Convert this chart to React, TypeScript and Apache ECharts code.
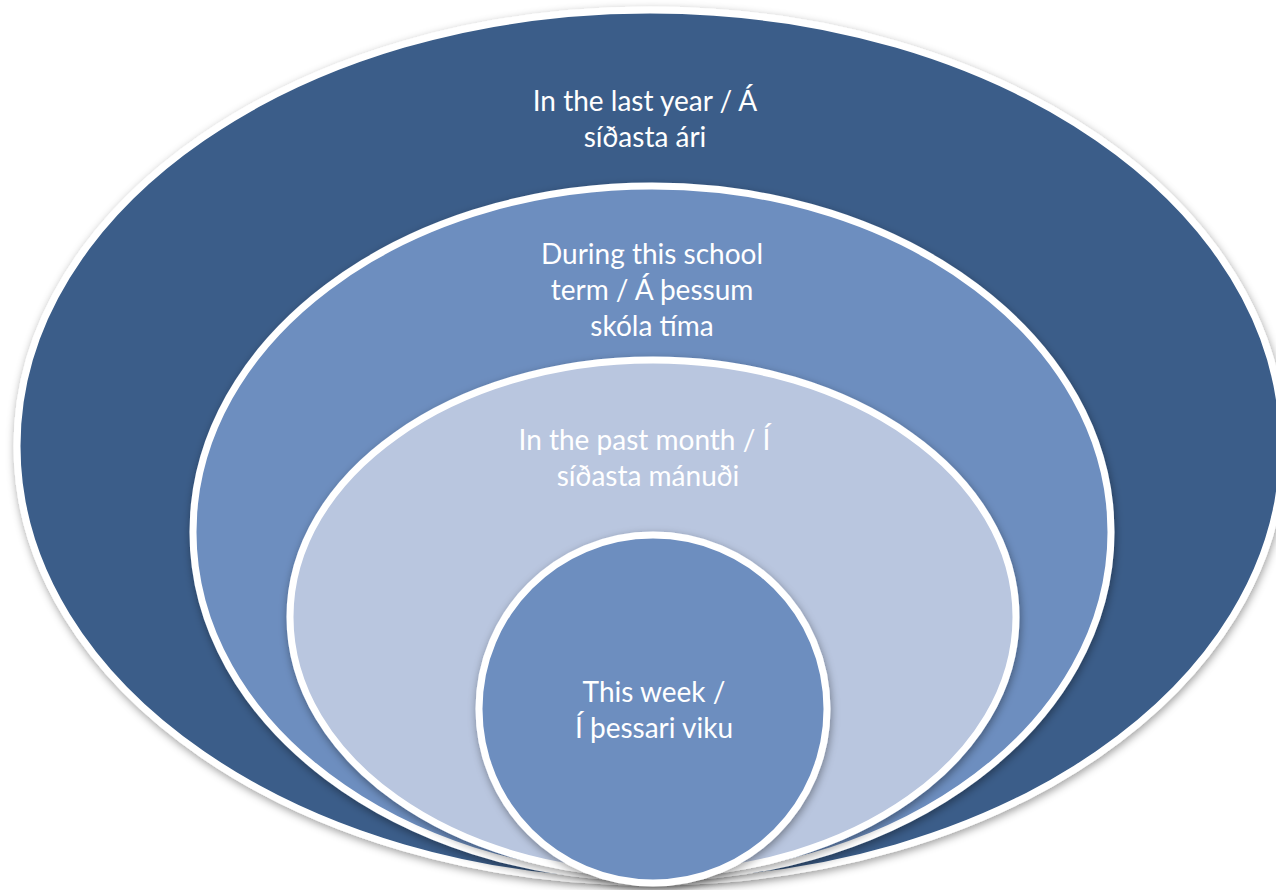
import React, { useEffect, useRef } from "react";
import * as echarts from "echarts";

// Ring labels, outermost first
const ringLabels: string[] = [
  "In the last year / Á\nsíðasta ári",
  "During this school\nterm / Á þessum\nskóla tíma",
  "In the past month / Í \nsíðasta mánuði",
  "This week /\nÍ þessari viku",
];

// Ring fill colours, outermost first
const ringColors: string[] = ["#3A5D89", "#6D8EBF", "#B9C6DF", "#6D8EBF"];

// Ring geometry (cx, cy, rx, ry) and label position, outermost first
const ringCx: number[] = [650, 652, 653, 653];
const ringCy: number[] = [446, 532, 617, 709];
const ringRx: number[] = [633, 459, 363, 174];
const ringRy: number[] = [436, 346, 257, 174];
const labelX: number[] = [645, 652, 648, 654];
const labelTop: number[] = [82, 235, 421, 673];

export default function App() {
  const ref = useRef<HTMLDivElement>(null);
  useEffect(() => {
    document.body.style.margin = "0";
    const chart = echarts.init(ref.current!, undefined, { renderer: "svg" });
    const elements: any[] = [];
    ringLabels.forEach((label, i) => {
      elements.push({
        type: "ellipse",
        shape: { cx: ringCx[i], cy: ringCy[i], rx: ringRx[i], ry: ringRy[i] },
        style: {
          fill: ringColors[i],
          stroke: "#ffffff",
          lineWidth: 7,
          shadowBlur: 8,
          shadowOffsetX: 1,
          shadowOffsetY: 3,
          shadowColor: "rgba(0,0,0,0.38)",
        },
        z: i * 2,
      });
    });
    ringLabels.forEach((label, i) => {
      elements.push({
        type: "text",
        x: labelX[i],
        y: labelTop[i],
        style: {
          text: label,
          fill: "#ffffff",
          fontSize: 28,
          fontFamily: "Lato",
          lineHeight: 36,
          align: "center",
          verticalAlign: "top",
        },
        z: 100,
      });
    });
    chart.setOption({
      animation: false,
      backgroundColor: "#ffffff",
      graphic: { elements },
    });
    return () => chart.dispose();
  }, []);
  return <div ref={ref} style={{ width: 1276, height: 890 }} />;
}
